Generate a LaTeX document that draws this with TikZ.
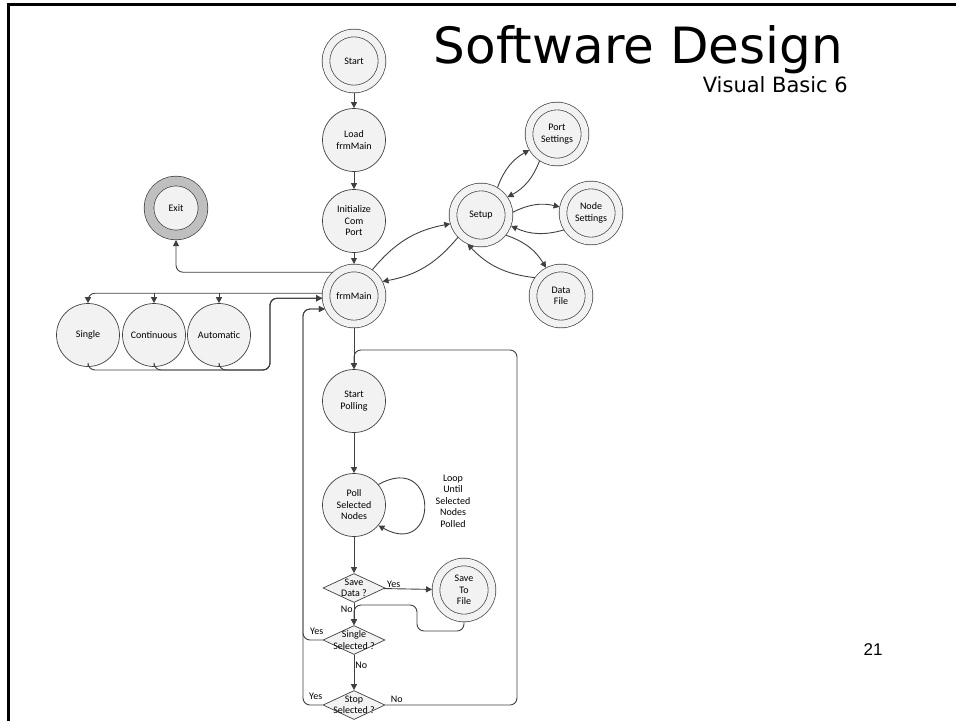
\documentclass[tikz,border=0pt]{standalone}
\usepackage{fontspec}
\setmainfont{Carlito}
\newfontfamily\headfont{DejaVu Sans}
\newfontfamily\pagefont{Liberation Sans}
\usetikzlibrary{shapes.geometric,arrows.meta}
\definecolor{edgegray}{HTML}{404040}
\definecolor{stategray}{HTML}{F2F2F2}
\definecolor{ringgray}{HTML}{BFBFBF}
\begin{document}
\begin{tikzpicture}[x=1pt,y=-1pt, >={Triangle[length=6pt,width=6pt]}]
  \tikzset{state/.style={circle, draw=edgegray, fill=stategray, line width=0.7pt,
      minimum size=63pt, inner sep=0pt, align=center, font=\fontsize{10}{11.5}\selectfont},
    final/.style={state, minimum size=56pt, double=stategray, double distance=7pt, outer sep=4pt},
    exitstate/.style={state, minimum size=54pt, double=ringgray, double distance=9pt, outer sep=5pt},
    decision/.style={diamond, draw=edgegray, fill=stategray, line width=0.7pt, aspect=2,
      minimum width=62pt, minimum height=29pt, inner sep=0pt},
    small/.style={font=\fontsize{10}{11.5}\selectfont, inner sep=1pt, align=center},
    link/.style={draw=edgegray, line width=0.9pt, ->, rounded corners=7pt}}
  \useasboundingbox (0,0) rectangle (956,721);
  \draw[line width=3pt] (8,721) -- (8,4) -- (956,4);
  % title
  \node[anchor=base east, inner sep=0pt, font=\headfont\fontsize{50}{56}\selectfont] (title) at (843,63) {Software Design};
  \node[anchor=base east, inner sep=0pt, font=\headfont\fontsize{21}{24}\selectfont] (subtitle) at (848,92) {Visual Basic 6};
  \node[font=\pagefont\fontsize{17}{20}\selectfont] (pagenum) at (873,650) {21};
  % states
  \node[final] (start) at (354,61) {Start};
  \node[state] (load) at (354,140) {Load\\frmMain};
  \node[state] (init) at (354,221) {Initialize\\Com\\Port};
  \node[final] (main) at (354,296) {frmMain};
  \node[final] (setup) at (481,215) {Setup};
  \node[final] (port) at (557,134) {Port\\Settings};
  \node[final] (nodeset) at (591,213) {Node\\Settings};
  \node[final] (datafile) at (561,296) {Data\\File};
  \node[exitstate] (exit) at (176,208) {Exit};
  \node[state] (single) at (88,335) {Single};
  \node[state] (cont) at (154,335) {Continuous};
  \node[state] (auto) at (219,335) {Automatic};
  \node[state] (startpoll) at (354,401) {Start\\Polling};
  \node[state] (poll) at (354,505) {Poll\\Selected\\Nodes};
  \node[small] (looptxt) at (453,501) {Loop\\Until\\Selected\\Nodes\\Polled};
  \node[decision, label={[small]center:Save\\Data ?}] (savedata) at (354,588) {};
  \node[final] (savefile) at (464,590) {Save\\To\\File};
  \node[decision, label={[small]center:Single\\Selected ?}] (singlesel) at (354,640) {};
  \node[decision, label={[small]center:Stop\\Selected ?}] (stopsel) at (354,705) {};
  \coordinate (retA) at (270,370);
  \coordinate (retB) at (303,400);
  \coordinate (noright) at (517,350);
  \coordinate (sfA) at (417,631);
  \coordinate (sfB) at (354,605);
  % main line
  \path[link] (start) -- (load);
  \path[link] (load) -- (init);
  \path[link] (init) -- (main);
  \path[link] (main) -- (startpoll);
  \path[link] (startpoll) -- (poll);
  \path[link] (poll) -- (savedata);
  \path[link] (savedata) -- node[small, left, pos=0.3] (nosave) {No} (singlesel);
  \path[link] (singlesel) -- node[small, right, pos=0.3] (nosingle) {No} (stopsel);
  \path[link] (savedata) -- node[small, above, pos=0.2] (yessave) {Yes} (savefile);
  \path[link] (poll.40) .. controls +(61,-34) and +(61,34) .. (poll.-40);
  % setup
  \path[link] (main.55) to[bend left=20] (setup.196);
  \path[link] (setup.224) to[bend left=20] (main.27);
  \path[link] (setup.59) to[bend left=20] (port.210);
  \path[link] (port.237) to[bend left=20] (setup.34);
  \path[link] (setup.5) to[bend left=20] (nodeset.169);
  \path[link] (nodeset.212) to[bend left=20] (setup.-20);
  \path[link] (setup.-39) to[bend left=20] (datafile.118);
  \path[link] (datafile.145) to[bend left=20] (setup.245);
  % left side
  \path[link] (main.132) -| (exit);
  \path[link] (main.175) -| (single);
  \path[link] (main.175 -| cont) -- (cont);
  \path[link] (main.175 -| auto) -- (auto);
  \foreach \m in {single,cont,auto}
    \path[link] (\m.south) |- (retA) |- (main.184);
  % decisions
  \path[link] (singlesel.west) node[small, above left, xshift=2pt, yshift=4pt] (yessingle) {Yes} -| (retB) |- (main.204);
  \path[link] (stopsel.west) node[small, above left, xshift=1pt, yshift=4pt] (yesstop) {Yes} -| (retB) |- (main.204);
  \path[link] (stopsel.east) node[small, above right, xshift=4pt, yshift=1pt] (nostop) {No} -| (noright) -- (startpoll.north |- noright) -- (startpoll.north);
  \path[link] (savefile.south) |- (sfA) |- (sfB) -- (singlesel.north);
\end{tikzpicture}
\end{document}
